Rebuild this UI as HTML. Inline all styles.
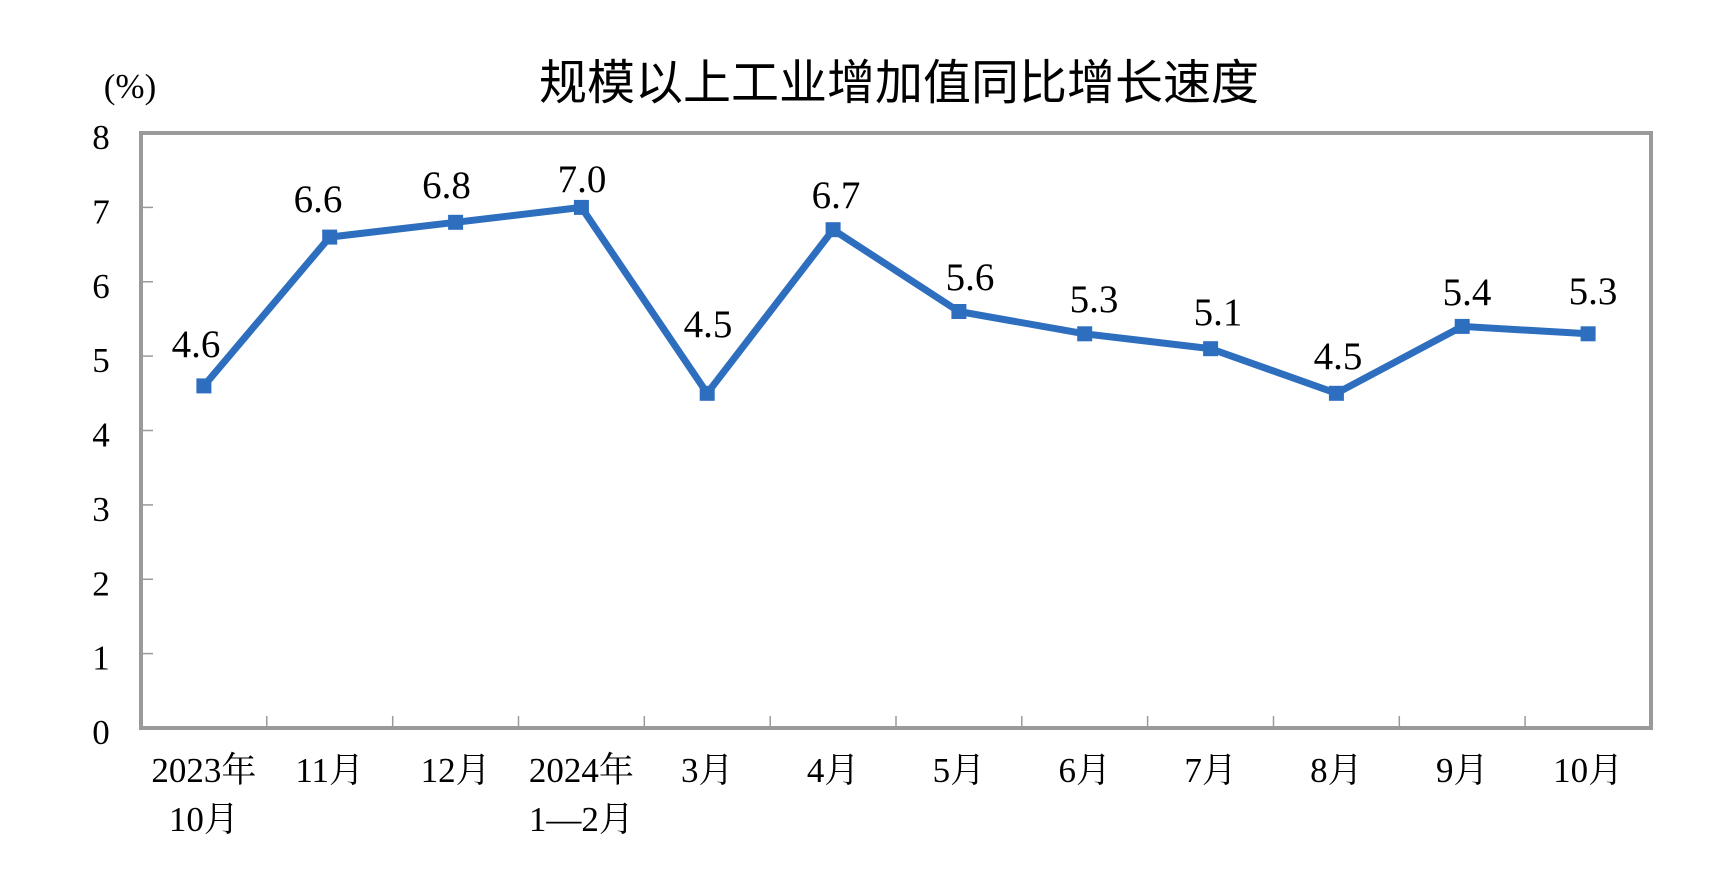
<!DOCTYPE html>
<html><head><meta charset="utf-8"><style>
html,body{margin:0;padding:0;background:#fff;}
svg{display:block;}
</style></head><body>
<svg width="1728" height="882" viewBox="0 0 1728 882" xmlns="http://www.w3.org/2000/svg">
<rect width="1728" height="882" fill="#fff"/>
<text x="899" y="99" text-anchor="middle" font-family="'Noto Sans CJK SC','WenQuanYi Zen Hei',sans-serif" font-size="48" fill="#000">规模以上工业增加值同比增长速度</text>
<text x="130" y="98" text-anchor="middle" font-family="'Liberation Serif',serif" font-size="35" fill="#000">(%)</text>
<g stroke="#9a9a9a" stroke-width="1.5">
<line x1="141" y1="653.6" x2="153" y2="653.6"/>
<line x1="141" y1="579.25" x2="153" y2="579.25"/>
<line x1="141" y1="504.9" x2="153" y2="504.9"/>
<line x1="141" y1="430.5" x2="153" y2="430.5"/>
<line x1="141" y1="356.1" x2="153" y2="356.1"/>
<line x1="141" y1="281.75" x2="153" y2="281.75"/>
<line x1="141" y1="207.4" x2="153" y2="207.4"/>
<line x1="266.8" y1="716" x2="266.8" y2="728"/>
<line x1="392.7" y1="716" x2="392.7" y2="728"/>
<line x1="518.5" y1="716" x2="518.5" y2="728"/>
<line x1="644.3" y1="716" x2="644.3" y2="728"/>
<line x1="770.2" y1="716" x2="770.2" y2="728"/>
<line x1="896" y1="716" x2="896" y2="728"/>
<line x1="1021.8" y1="716" x2="1021.8" y2="728"/>
<line x1="1147.6" y1="716" x2="1147.6" y2="728"/>
<line x1="1273.5" y1="716" x2="1273.5" y2="728"/>
<line x1="1399.3" y1="716" x2="1399.3" y2="728"/>
<line x1="1525.1" y1="716" x2="1525.1" y2="728"/>
</g>
<rect x="141" y="133" width="1510" height="595" fill="none" stroke="#9a9a9a" stroke-width="4"/>
<g font-family="'Liberation Serif',serif" font-size="35" fill="#000" text-anchor="middle">
<text x="101" y="744">0</text>
<text x="101" y="669.6">1</text>
<text x="101" y="595.25">2</text>
<text x="101" y="520.9">3</text>
<text x="101" y="446.5">4</text>
<text x="101" y="372.1">5</text>
<text x="101" y="297.75">6</text>
<text x="101" y="223.4">7</text>
<text x="101" y="149">8</text>
</g>
<g font-family="'Liberation Serif','Noto Serif CJK SC',serif" font-size="35" fill="#000" text-anchor="middle">
<text x="203.9" y="782">2023年</text>
<text x="203.9" y="831">10月</text>
<text x="329.7" y="782">11月</text>
<text x="455.6" y="782">12月</text>
<text x="581.4" y="782">2024年</text>
<text x="581.4" y="831">1—2月</text>
<text x="707.2" y="782">3月</text>
<text x="833.1" y="782">4月</text>
<text x="958.9" y="782">5月</text>
<text x="1084.7" y="782">6月</text>
<text x="1210.6" y="782">7月</text>
<text x="1336.4" y="782">8月</text>
<text x="1462.2" y="782">9月</text>
<text x="1588.1" y="782">10月</text>
</g>
<polyline fill="none" stroke="#2E6EBF" stroke-width="7" stroke-linejoin="miter" points="203.9,385.9 329.7,237.1 455.6,222.3 581.4,207.4 707.2,393.3 833.1,229.7 958.9,311.5 1084.7,333.8 1210.6,348.7 1336.4,393.3 1462.2,326.4 1588.1,333.8"/>
<g fill="#2E6EBF">
<rect x="196.4" y="378.4" width="15" height="15"/>
<rect x="322.2" y="229.6" width="15" height="15"/>
<rect x="448.1" y="214.8" width="15" height="15"/>
<rect x="573.9" y="199.9" width="15" height="15"/>
<rect x="699.7" y="385.8" width="15" height="15"/>
<rect x="825.6" y="222.2" width="15" height="15"/>
<rect x="951.4" y="304" width="15" height="15"/>
<rect x="1077.2" y="326.3" width="15" height="15"/>
<rect x="1203.1" y="341.2" width="15" height="15"/>
<rect x="1328.9" y="385.8" width="15" height="15"/>
<rect x="1454.7" y="318.9" width="15" height="15"/>
<rect x="1580.6" y="326.3" width="15" height="15"/>
</g>
<g font-family="'Liberation Serif',serif" font-size="39" fill="#000" text-anchor="middle">
<text x="196" y="357">4.6</text>
<text x="318" y="212">6.6</text>
<text x="446.5" y="198">6.8</text>
<text x="582" y="192">7.0</text>
<text x="708" y="337">4.5</text>
<text x="836" y="208">6.7</text>
<text x="970" y="290">5.6</text>
<text x="1094" y="312">5.3</text>
<text x="1218" y="325">5.1</text>
<text x="1338" y="369">4.5</text>
<text x="1467" y="305">5.4</text>
<text x="1593" y="304">5.3</text>
</g>
</svg>
</body></html>
